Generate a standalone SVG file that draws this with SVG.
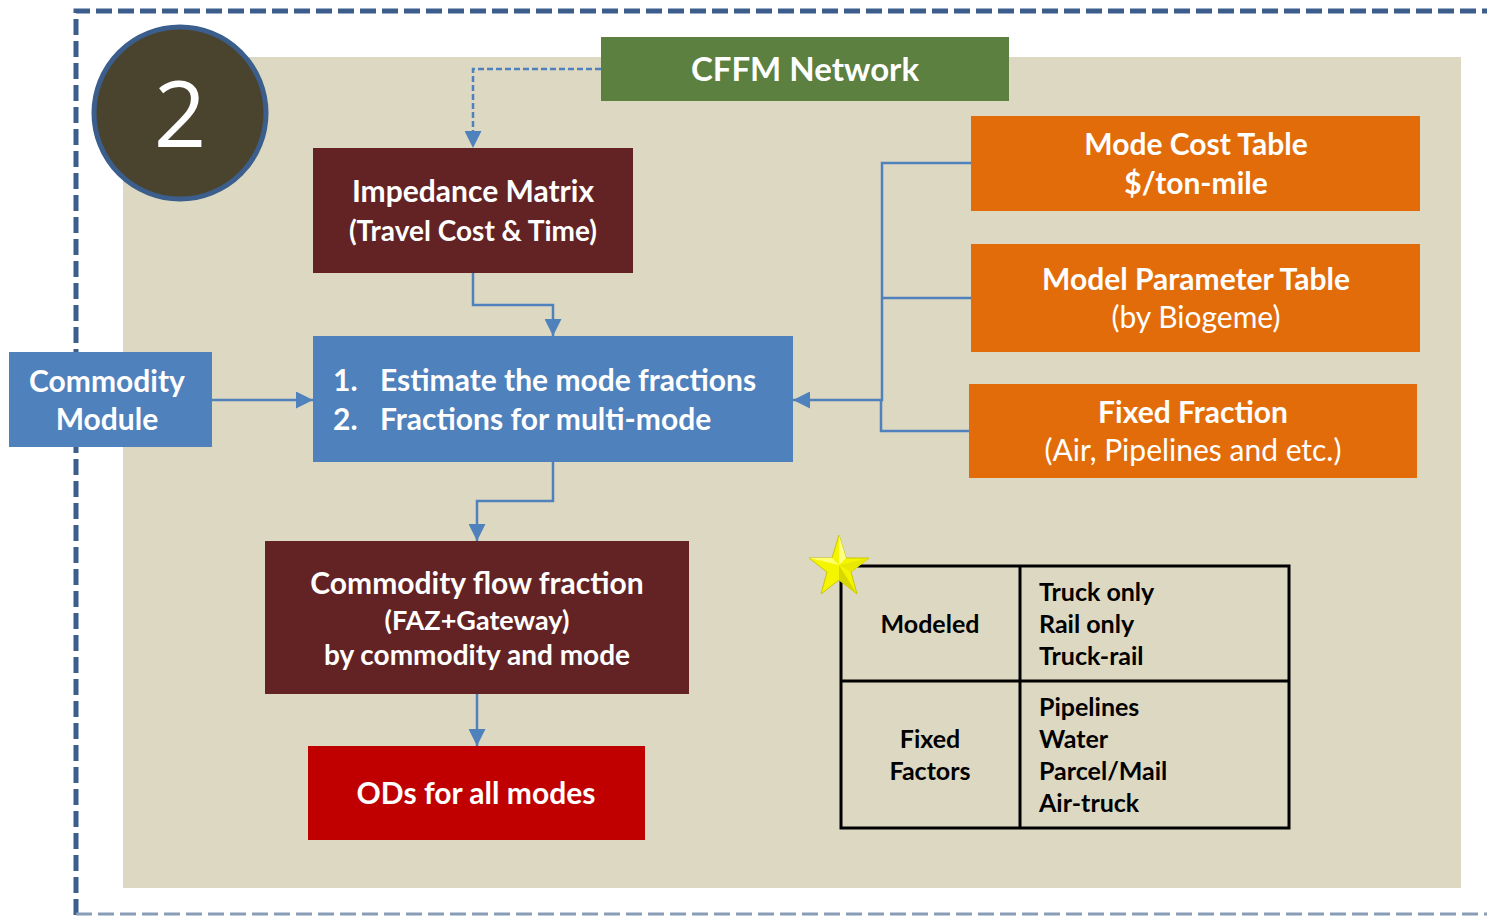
<svg xmlns="http://www.w3.org/2000/svg" width="1487" height="916" viewBox="0 0 1487 916">
  <style>
    .t { font-family: Lato, "Open Sans", "Liberation Sans", sans-serif; font-weight: bold; fill: #ffffff; text-anchor: middle; }
    .s { text-anchor: start; }
    .n { font-weight: normal; }
    .k { font-family: Lato, "Open Sans", "Liberation Sans", sans-serif; font-weight: bold; fill: #000000; font-size: 25px; }
    .c { text-anchor: middle; }
    .wire { fill: none; stroke: #4F81BD; stroke-width: 2.5; }
  </style>
  <defs>
    <marker id="arrB" viewBox="0 0 10 10" refX="10" refY="5" markerWidth="17" markerHeight="17" markerUnits="userSpaceOnUse" orient="auto">
      <path d="M0,0 L10,5 L0,10 z" fill="#4F81BD"/>
    </marker>
  </defs>

  <rect width="1487" height="916" fill="#ffffff"/>

  <!-- outer dashed frame -->
  <path d="M76,915 L76,11 L1490,11" fill="none" stroke="#3B5E8C" stroke-width="5" stroke-dasharray="16,6"/>
  <path d="M76,914 L1490,914" fill="none" stroke="#8A9DB8" stroke-width="3" stroke-dasharray="16,6"/>

  <!-- beige panel -->
  <rect x="123" y="57" width="1338" height="831" fill="#DDD8C2"/>

  <!-- step badge -->
  <g id="badge">
    <circle cx="180" cy="113" r="86" fill="#4A442E" stroke="#3B5E8C" stroke-width="5"/>
    <text x="180" y="147" style="font-family: 'Open Sans', Lato, sans-serif; font-size: 92px; fill: #ffffff; text-anchor: middle;">2</text>
  </g>

  <!-- connectors -->
  <g id="connectors">
    <path d="M601,69 L473,69 L473,142" class="wire" stroke-width="2" stroke-dasharray="6,3"/>
    <path d="M473,69 L473,148" fill="none" stroke="none" marker-end="url(#arrB)"/>
    <path d="M473,273 L473,305 L553,305 L553,336" class="wire" marker-end="url(#arrB)"/>
    <path d="M553,462 L553,501 L477,501 L477,541" class="wire" marker-end="url(#arrB)"/>
    <path d="M477,694 L477,746" class="wire" marker-end="url(#arrB)"/>
    <path d="M212,400 L313,400" class="wire" marker-end="url(#arrB)"/>
    <path d="M971,163 L882,163 L882,400 L793,400" class="wire" marker-end="url(#arrB)"/>
    <path d="M971,298 L882,298" class="wire"/>
    <path d="M969,431 L881,431 L881,400" class="wire"/>
  </g>

  <g id="cffm">
    <rect x="601" y="37" width="408" height="64" fill="#5B8040"/>
    <text x="805" y="81" class="t" font-size="33">CFFM Network</text>
  </g>

  <g id="impedance">
    <rect x="313" y="148" width="320" height="125" fill="#632324"/>
    <text x="473" y="202" class="t" font-size="30">Impedance Matrix</text>
    <text x="473" y="241" class="t" font-size="28">(Travel Cost &amp; Time)</text>
  </g>

  <g id="estimate">
    <rect x="313" y="336" width="480" height="126" fill="#4F81BD"/>
    <text x="333" y="391" class="t s" font-size="30">1.</text>
    <text x="380" y="391" class="t s" font-size="30">Estimate the mode fractions</text>
    <text x="333" y="430" class="t s" font-size="30">2.</text>
    <text x="380" y="430" class="t s" font-size="30">Fractions for multi-mode</text>
  </g>

  <g id="commodity-module">
    <rect x="9" y="352" width="203" height="95" fill="#4F81BD"/>
    <text x="107" y="392" class="t" font-size="30">Commodity</text>
    <text x="107" y="430" class="t" font-size="30">Module</text>
  </g>

  <g id="mode-cost">
    <rect x="971" y="116" width="449" height="95" fill="#E36C0A"/>
    <text x="1196" y="155" class="t" font-size="30">Mode Cost Table</text>
    <text x="1196" y="194" class="t" font-size="30">$/ton-mile</text>
  </g>

  <g id="model-param">
    <rect x="971" y="244" width="449" height="108" fill="#E36C0A"/>
    <text x="1196" y="290" class="t" font-size="30">Model Parameter Table</text>
    <text x="1196" y="328" class="t n" font-size="30">(by Biogeme)</text>
  </g>

  <g id="fixed-fraction">
    <rect x="969" y="384" width="448" height="94" fill="#E36C0A"/>
    <text x="1193" y="423" class="t" font-size="30">Fixed Fraction</text>
    <text x="1193" y="461" class="t n" font-size="30">(Air, Pipelines and etc.)</text>
  </g>

  <g id="flow-fraction">
    <rect x="265" y="541" width="424" height="153" fill="#632324"/>
    <text x="477" y="594" class="t" font-size="30">Commodity flow fraction</text>
    <text x="477" y="630" class="t" font-size="27">(FAZ+Gateway)</text>
    <text x="477" y="665" class="t" font-size="28">by commodity and mode</text>
  </g>

  <g id="ods">
    <rect x="308" y="746" width="337" height="94" fill="#C00000"/>
    <text x="476" y="804" class="t" font-size="30">ODs for all modes</text>
  </g>

  <g id="mode-table">
    <rect x="841" y="566" width="448" height="262" fill="none" stroke="#000000" stroke-width="3"/>
    <line x1="1020" y1="566" x2="1020" y2="828" stroke="#000000" stroke-width="3"/>
    <line x1="841" y1="681" x2="1289" y2="681" stroke="#000000" stroke-width="3"/>
    <text x="930" y="633" class="k c">Modeled</text>
    <text x="1039" y="601" class="k">Truck only</text>
    <text x="1039" y="633" class="k">Rail only</text>
    <text x="1039" y="665" class="k">Truck-rail</text>
    <text x="930" y="748" class="k c">Fixed</text>
    <text x="930" y="780" class="k c">Factors</text>
    <text x="1039" y="716" class="k">Pipelines</text>
    <text x="1039" y="748" class="k">Water</text>
    <text x="1039" y="780" class="k">Parcel/Mail</text>
    <text x="1039" y="812" class="k">Air-truck</text>
  </g>

  <g id="star">
    <polygon points="839,535 846,558 869,558 851,572 857,594 839,580 821,594 827,572 809,558 832,558" fill="#F5F500" stroke="#C8C800" stroke-width="1"/>
    <polygon points="839,535 846,558 839,565" fill="#FFFF80"/>
    <polygon points="869,558 851,572 839,565" fill="#E8E800"/>
    <polygon points="857,594 839,580 839,565" fill="#D8D800"/>
    <polygon points="809,558 832,558 839,565" fill="#FFFF70"/>
  </g>
</svg>
